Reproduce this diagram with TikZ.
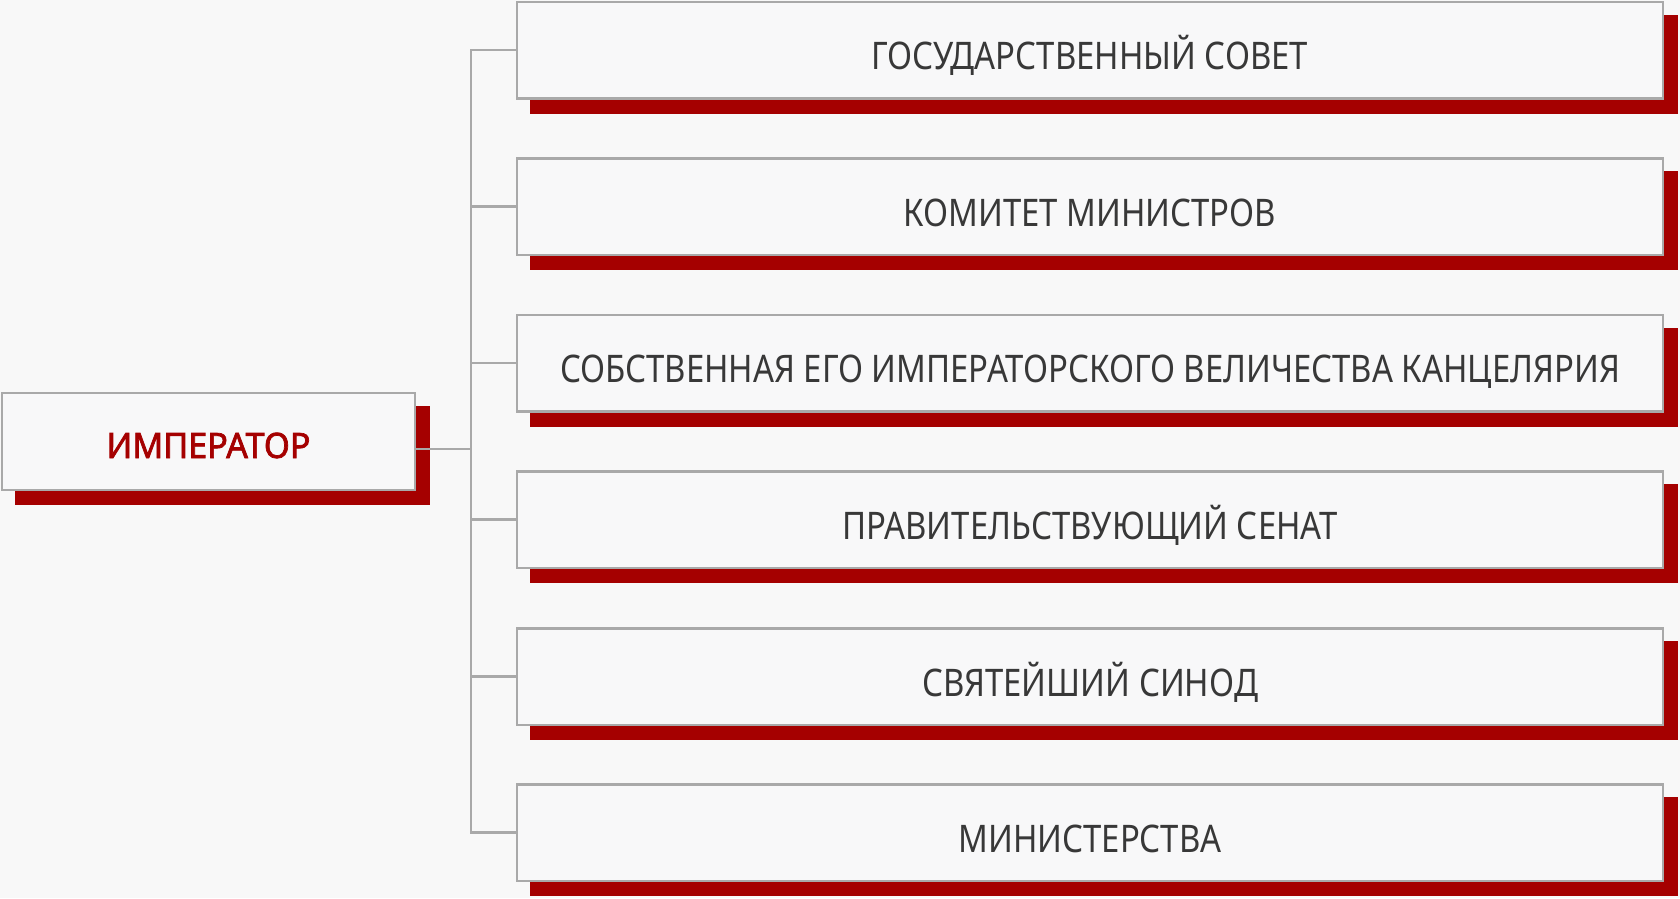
\documentclass[tikz,border=0pt]{standalone}
\usepackage{fontspec}
\setmainfont{Noto Sans}
\newfontfamily\boxfont[FakeStretch=0.865]{Noto Sans}
\newfontfamily\impfont[FakeStretch=0.975,FakeBold=2]{Noto Sans}
\definecolor{pagebg}{HTML}{F8F8F8}
\definecolor{boxfill}{HTML}{F8F8F9}
\definecolor{bordergray}{HTML}{A9A9A9}
\definecolor{shadowred}{HTML}{A50000}
\definecolor{textdark}{HTML}{383838}
\pgfdeclarelayer{backlayer}
\pgfdeclarelayer{shadowlayer}
\pgfsetlayers{backlayer,shadowlayer,main}
\tikzset{
  orgbox/.style={draw=bordergray, line width=2.5pt, fill=boxfill, inner sep=0pt,
    minimum width=1146pt, minimum height=96.5pt, text=textdark,
    font=\boxfont\fontsize{38}{40}\selectfont, text height=39pt, text depth=0pt},
  impbox/.style={draw=bordergray, line width=2.5pt, fill=boxfill, inner sep=0pt,
    minimum width=413pt, minimum height=97pt, text=shadowred,
    font=\impfont\fontsize{35}{38}\selectfont, text height=33pt, text depth=0pt},
  conn/.style={draw=bordergray, line width=2.5pt},
  redshadow/.style={fill=shadowred},
}
\newcommand{\boxshadow}[1]{%
  \fill[redshadow] ([shift={(14pt,-14pt)}]#1.south west) rectangle ([shift={(14pt,-14pt)}]#1.north east);}
\begin{document}
\begin{tikzpicture}[x=1pt,y=-1pt]
\begin{pgfonlayer}{backlayer}
  \fill[pagebg] (0,0) rectangle (1680,898);
\end{pgfonlayer}
\useasboundingbox (0,0) rectangle (1680,898);

\node[impbox] (imp) at (208.5,441.5) {ИМПЕРАТОР};
\node[orgbox] (b1) at (1090,50) {ГОСУДАРСТВЕННЫЙ СОВЕТ};
\node[orgbox] (b2) at (1090,206.5) {КОМИТЕТ МИНИСТРОВ};
\node[orgbox] (b3) at (1090,363) {СОБСТВЕННАЯ ЕГО ИМПЕРАТОРСКОГО ВЕЛИЧЕСТВА КАНЦЕЛЯРИЯ};
\node[orgbox] (b4) at (1090,519.5) {ПРАВИТЕЛЬСТВУЮЩИЙ СЕНАТ};
\node[orgbox] (b5) at (1090,676.5) {СВЯТЕЙШИЙ СИНОД};
\node[orgbox] (b6) at (1090,832.5) {МИНИСТЕРСТВА};

\begin{pgfonlayer}{shadowlayer}
  \boxshadow{imp}
  \boxshadow{b1}\boxshadow{b2}\boxshadow{b3}
  \boxshadow{b4}\boxshadow{b5}\boxshadow{b6}
\end{pgfonlayer}

\coordinate (ttop) at ([xshift=-45pt]b1.west);
\coordinate (tbot) at ([xshift=-45pt]b6.west);
\coordinate (impout) at ([yshift=-7.5pt]imp.east);
\draw[conn] (b1.west) -- (ttop) -- (tbot) -- (b6.west);
\foreach \b in {b2,b3,b4,b5}{
  \draw[conn] (\b.west) -- ([xshift=-45pt]\b.west);
}
\draw[conn] (impout) -- (impout -| ttop);
\end{tikzpicture}
\end{document}
